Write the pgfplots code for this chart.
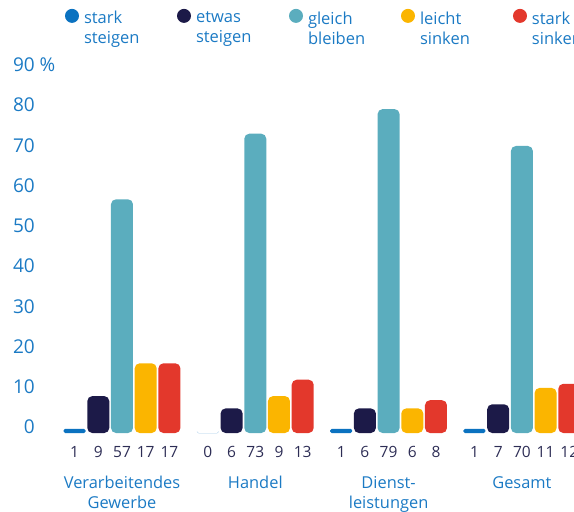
\documentclass[border=0pt]{standalone}
\usepackage{pgfplots}
\pgfplotsset{compat=1.18}
\usepackage{fontspec}
\setmainfont{Open Sans}
\definecolor{txtblue}{RGB}{27,122,196}
\definecolor{valcol}{RGB}{45,45,85}
\definecolor{cA}{RGB}{11,114,192}
\definecolor{cB}{RGB}{28,26,72}
\definecolor{cC}{RGB}{91,173,190}
\definecolor{cD}{RGB}{251,181,0}
\definecolor{cE}{RGB}{227,56,44}
\begin{document}
\begin{tikzpicture}
\useasboundingbox (-122pt,-79pt) rectangle (452pt,433pt);
\begin{axis}[
  anchor=origin, at={(0pt,0pt)},
  x=133.3pt, y=4.1pt,
  xmin=-0.615, xmax=3.39, ymin=0, ymax=92,
  axis line style={draw=none},
  major tick length=0pt,
  clip=false,
  ybar=1.7pt, bar width=22pt,
  /pgf/number format/assume math mode=true,
  xtick={0,1,2,3},
  xticklabels={{Verarbeitendes\\Gewerbe},{Handel},{Dienst-\\leistungen},{Gesamt}},
  xticklabel style={align=center, anchor=north, inner sep=0pt, yshift=-43pt, text=txtblue, font=\fontsize{16.4}{20}\selectfont},
  ytick={1.46,11.28,21.10,30.91,40.73,50.55,60.37,70.18,80.0,89.82},
  yticklabels={0,10,20,30,40,50,60,70,80,{90\rlap{ \%}}},
  yticklabel style={anchor=east, inner sep=0pt, xshift=-5pt, text=txtblue, font=\fontsize{19}{20}\selectfont},
  visualization depends on={y \as \rawy},
  nodes near coords,
  nodes near coords style={anchor=center, shift={(axis direction cs:0,-\rawy)}, yshift=-19pt, text=valcol, font=\fontsize{15.5}{18}\selectfont},
  legend style={at={(0.0468,1.139)}, anchor=north west, draw=none, fill=none, inner sep=0pt, outer sep=0pt, column sep=0pt, row sep=0pt, nodes={inner sep=0pt}, font=\fontsize{16.5}{20}\selectfont, text=txtblue},
  legend columns=5,
  legend cell align=left,
  legend image code/.code={\fill[draw=none] (7pt,7.5pt) circle (7pt); \path[fill=none,draw=none] (0pt,-20pt) rectangle (19pt,20pt);},
]
\addplot[fill=cA, draw=none, rounded corners=1.5pt] coordinates {(0,1) (1,0) (2,1) (3,1)};
\addlegendentry{\parbox{93pt}{stark\\steigen}}
\addplot[fill=cB, draw=none, rounded corners=5pt] coordinates {(0,9) (1,6) (2,6) (3,7)};
\addlegendentry{\parbox{93pt}{etwas\\steigen}}
\addplot[fill=cC, draw=none, rounded corners=5pt] coordinates {(0,57) (1,73) (2,79) (3,70)};
\addlegendentry{\parbox{93pt}{gleich\\bleiben}}
\addplot[fill=cD, draw=none, rounded corners=5pt] coordinates {(0,17) (1,9) (2,6) (3,11)};
\addlegendentry{\parbox{93pt}{leicht\\sinken}}
\addplot[fill=cE, draw=none, rounded corners=5pt] coordinates {(0,17) (1,13) (2,8) (3,12)};
\addlegendentry{\parbox{93pt}{stark\\sinken}}
\end{axis}
\end{tikzpicture}
\end{document}
